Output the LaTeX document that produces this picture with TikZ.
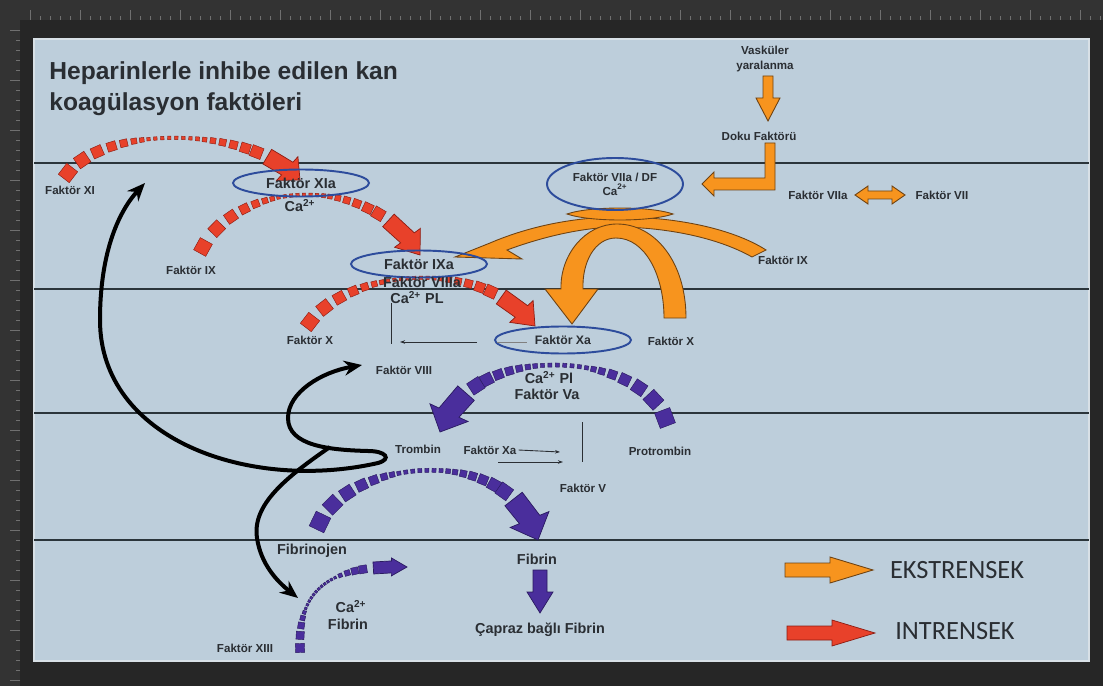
\documentclass[tikz,border=0pt]{standalone}
\usepackage{fontspec}
\setmainfont{Liberation Sans}
\newfontfamily\legendfont{Carlito}
\usetikzlibrary{shapes.geometric,calc,arrows.meta}

\definecolor{bgdark}{HTML}{262626}
\definecolor{rulerc}{HTML}{333333}
\definecolor{tickc}{HTML}{707070}
\definecolor{panelc}{HTML}{BDCEDB}
\definecolor{edgec}{HTML}{D8E0E6}
\definecolor{sepc}{HTML}{2B353B}
\definecolor{txtc}{HTML}{2A2E33}
\definecolor{redc}{HTML}{E8412A}
\definecolor{redd}{HTML}{8C1C12}
\definecolor{orc}{HTML}{F7941E}
\definecolor{ord}{HTML}{6E4212}
\definecolor{purc}{HTML}{4A2E9C}
\definecolor{purd}{HTML}{2A1A60}
\definecolor{ringc}{HTML}{2D4C9C}

% block sizes along the dashed reaction arcs (curve parameter / size in px)
\newcommand{\bigpat}{0/12,0.1/11,0.18/9.5,0.245/8,0.295/6.5,0.335/5,0.365/4,0.39/3,0.415/3,0.44/3,0.465/3,0.49/3,0.515/3,0.54/3,0.565/3.5,0.59/4,0.62/5,0.655/6,0.695/7,0.74/8.5,0.785/10}
\newcommand{\smallpat}{0/9,0.07/8,0.13/6.5,0.18/5,0.22/3.5,0.25/2.5,0.28/2.5,0.31/2.5,0.34/2.5,0.37/2.5,0.40/2.5,0.43/2.5,0.46/2.5,0.49/2.5,0.52/2.5,0.55/2.5,0.58/2.5,0.62/4,0.67/5.5,0.72/7,0.77/8}

% dashed arc with a block arrow head
% #1 fill style, #2 start, #3 #4 controls, #5 tip, #6 pattern, #7 shaft half width, #8 head half width, #9 block scale
\newcommand{\chain}[9]{%
  \foreach \t/\s in #6 {
    \path (#2) .. controls (#3) and (#4) .. (#5) node[blk,#1,pos=\t,minimum size=\s*#9*0.02cm] {};
  }
  \path (#2) .. controls (#3) and (#4) .. (#5)
    coordinate[pos=0.83] (h0) coordinate[pos=0.925] (h1) coordinate[pos=1] (h2);
  \filldraw[#1] ($(h0)!#7!90:(h1)$) -- ($(h1)!#7!90:(h2)$) -- ($(h1)!#8!90:(h2)$) -- (h2)
    -- ($(h1)!#8!-90:(h2)$) -- ($(h1)!#7!-90:(h2)$) -- ($(h0)!#7!-90:(h1)$) -- cycle;
}

\tikzset{bktip/.tip={Stealth[length=0.36cm,width=0.3cm]}}

\begin{document}
\begin{tikzpicture}[x=0.02cm,y=-0.02cm,
  lbl/.style={font=\bfseries\fontsize{6.6}{8}\selectfont,text=txtc,inner sep=1pt},
  mlbl/.style={font=\bfseries\fontsize{8.2}{9.5}\selectfont,text=txtc,inner sep=1pt},
  ttl/.style={font=\bfseries\fontsize{14}{17}\selectfont,text=txtc,inner sep=0pt},
  leg/.style={font=\legendfont\fontsize{15}{18}\selectfont,text=txtc,inner sep=0pt},
  ring/.style={ellipse,draw=ringc,line width=1.1pt,minimum width=2.72cm,minimum height=0.54cm,inner sep=0pt},
  blk/.style={rectangle,inner sep=0pt,sloped,line width=0.25pt},
  rfill/.style={fill=redc,draw=redd},
  pfill/.style={fill=purc,draw=purd},
  ofill/.style={fill=orc,draw=ord,line width=0.5pt},
  sep/.style={draw=sepc,line width=1.1pt},
  bk/.style={line width=0.08cm,black},
  thinline/.style={line width=0.5pt,txtc},
  thinarr/.style={line width=0.5pt,txtc,-{Stealth[length=0.1cm,width=0.07cm]}}]
  \useasboundingbox (0,0) rectangle (1103,686);

  % frame, rulers and panel
  \fill[bgdark] (0,0) rectangle (1103,686);
  \fill[rulerc] (0,0) rectangle (1103,20);
  \fill[rulerc] (0,0) rectangle (20,686);
  \foreach \x in {30,40,...,1100} \draw[tickc,line width=0.3pt] (\x,20) -- (\x,16);
  \foreach \x in {30,80,...,1100} \draw[tickc,line width=0.3pt] (\x,20) -- (\x,10);
  \foreach \y in {30,40,...,680} \draw[tickc,line width=0.3pt] (20,\y) -- (16,\y);
  \foreach \y in {30,80,...,680} \draw[tickc,line width=0.3pt] (20,\y) -- (10,\y);
  \fill[panelc] (33,38) rectangle (1090,662);
  \draw[edgec,line width=1pt] (34,39) rectangle (1089,661);
  \foreach \y in {163,289,413,540} \draw[sep] (34,\y) -- (1089,\y);

  % title
  \node[ttl,anchor=base west] (title1) at (49,80) {Heparinlerle inhibe edilen kan};
  \node[ttl,anchor=base west] (title2) at (49,111) {koagülasyon faktöleri};

  % intrinsic cascade (red)
  \coordinate (xiS) at (68,173);   \coordinate (xiT) at (300,180);
  \coordinate (ixS) at (203,247);  \coordinate (ixT) at (420,255);
  \coordinate (xS) at (310,322);   \coordinate (xT) at (535,326);
  \chain{rfill}{xiS}{105,125}{250,125}{xiT}{\bigpat}{0.17cm}{0.32cm}{1.15}
  \chain{rfill}{ixS}{240,180}{370,172}{ixT}{\bigpat}{0.17cm}{0.32cm}{1.15}
  \chain{rfill}{xS}{350,270}{480,255}{xT}{\bigpat}{0.17cm}{0.32cm}{1.15}

  % common pathway (purple)
  \coordinate (prS) at (665,418);  \coordinate (prT) at (440,432);
  \coordinate (fgS) at (320,522);  \coordinate (fgT) at (538,540);
  \coordinate (xiiiS) at (300,648); \coordinate (xiiiT) at (407,567);
  \chain{pfill}{prS}{640,352}{470,338}{prT}{\bigpat}{0.22cm}{0.42cm}{1.35}
  \chain{pfill}{fgS}{350,460}{510,440}{fgT}{\bigpat}{0.22cm}{0.42cm}{1.35}
  \chain{pfill}{xiiiS}{298,585}{335,565}{xiiiT}{\smallpat}{0.12cm}{0.18cm}{1}
  \filldraw[pfill] (533,570) -- (547,570) -- (547,592) -- (553,592) -- (540,613)
    -- (527,592) -- (533,592) -- cycle;

  % extrinsic pathway (orange)
  \filldraw[ofill] (763,76) -- (773,76) -- (773,98) -- (780,98) -- (768,121)
    -- (756,98) -- (763,98) -- cycle;
  \filldraw[ofill] (765,143) -- (775,143) -- (775,190) -- (714,190) -- (714,196)
    -- (702,184) -- (714,172) -- (714,178) -- (765,178) -- cycle;
  \filldraw[ofill] (855,195) -- (868,186) -- (868,191) -- (892,191) -- (892,186)
    -- (905,195) -- (892,204) -- (892,199) -- (868,199) -- (868,204) -- cycle;
  \filldraw[ofill] (766,250) .. controls (735,230) and (680,217) .. (620,217)
    .. controls (570,217) and (525,228) .. (490,243) -- (455,257) -- (522,259) -- (507,250)
    .. controls (545,236) and (585,227) .. (620,227)
    .. controls (675,228) and (722,240) .. (752,257) -- cycle;
  \filldraw[ofill] (664,318) .. controls (664,275) and (645,238) .. (616,238)
    .. controls (595,238) and (582,262) .. (583,289) -- (598,289) -- (572,324)
    -- (545,289) -- (561,289) .. controls (560,255) and (585,224) .. (617,224)
    .. controls (655,224) and (686,262) .. (686,318) -- cycle;
  \filldraw[ofill] (567,214) .. controls (590,206) and (650,206) .. (673,214)
    .. controls (650,222) and (590,222) .. (567,214) -- cycle;

  % thrombin feedback (black)
  \coordinate (bkA) at (145,183);
  \coordinate (bkB) at (362,365);
  \coordinate (bkS) at (330,447);
  \coordinate (bkC) at (298,598);
  \draw[bk,bktip-bktip] (bkA) .. controls (120,210) and (100,250) .. (100,320)
    .. controls (100,440) and (250,492) .. (378,463)
    .. controls (392,459) and (386,451) .. (368,451)
    .. controls (330,450) and (288,446) .. (288,418)
    .. controls (288,392) and (322,372) .. (bkB);
  \draw[bk,-bktip] (bkS) .. controls (285,478) and (252,505) .. (257,538)
    .. controls (261,565) and (278,582) .. (bkC);

  % labels
  \node[lbl] (fxi) at (70,190) {Faktör XI};
  \node[mlbl,ring] (fxia) at (301,183) {Faktör XIa};
  \node[mlbl] (ca1) at (300,206) {Ca\textsuperscript{2+}};
  \node[lbl] (fix) at (191,270) {Faktör IX};
  \node[mlbl,ring] (fixa) at (419,264) {Faktör IXa};
  \node[mlbl] (fviiia) at (422,282) {Faktör VIIIa};
  \node[mlbl] (capl) at (417,298) {Ca\textsuperscript{2+} PL};
  \node[lbl] (fxl) at (310,340) {Faktör X};
  \node[lbl] (fviii) at (404,370) {Faktör VIII};
  \node[lbl,ring,font=\bfseries\fontsize{7}{8}\selectfont] (fxa) at (563,340) {Faktör Xa};
  \node[lbl] (fxr) at (671,341) {Faktör X};
  \node[mlbl] (capi) at (549,378) {Ca\textsuperscript{2+} Pl};
  \node[mlbl] (fva) at (547,394) {Faktör Va};
  \node[lbl] (tromb) at (418,449) {Trombin};
  \node[lbl] (fxa2) at (490,450) {Faktör Xa};
  \node[lbl] (protr) at (660,451) {Protrombin};
  \node[lbl] (fv) at (583,488) {Faktör V};
  \node[mlbl] (fibj) at (312,551) {Fibrinojen};
  \node[mlbl] (fib) at (537,559) {Fibrin};
  \node[mlbl] (capraz) at (540,630) {Çapraz bağlı Fibrin};
  \node[mlbl] (ca3) at (351,607) {Ca\textsuperscript{2+}};
  \node[mlbl] (fib2) at (348,624) {Fibrin};
  \node[lbl] (fxiii) at (245,648) {Faktör XIII};
  \node[lbl,align=center] (vask) at (765,59) {Vasküler\\yaralanma};
  \node[lbl] (doku) at (759,136) {Doku Faktörü};
  \node[lbl,ring,minimum height=1.04cm,align=center] (fviiadf) at (615,184) {Faktör VIIa / DF\\Ca\textsuperscript{2+}};
  \node[lbl] (fviia) at (818,195) {Faktör VIIa};
  \node[lbl] (fvii) at (942,195) {Faktör VII};
  \node[lbl] (fixr) at (783,260) {Faktör IX};

  % thin reaction arrows
  \coordinate (v1a) at (391,303); \coordinate (v1b) at (391,344);
  \coordinate (h1a) at (477,342); \coordinate (h1b) at (400,342);
  \coordinate (h2a) at (497,342); \coordinate (h2b) at (527,342);
  \coordinate (h3b) at (560,452);
  \coordinate (h4a) at (498,462); \coordinate (h4b) at (563,462);
  \coordinate (v2a) at (582,422); \coordinate (v2b) at (582,462);
  \draw[thinline] (v1a) -- (v1b);
  \draw[thinarr] (h1a) -- (h1b);
  \draw[thinline,gray] (h2a) -- (h2b);
  \draw[thinarr] (fxa2.east) -- (h3b);
  \draw[thinarr] (h4a) -- (h4b);
  \draw[thinline] (v2a) -- (v2b);

  % legend
  \filldraw[ofill] (785,563) -- (830,563) -- (830,557) -- (873,570) -- (830,583)
    -- (830,577) -- (785,577) -- cycle;
  \filldraw[rfill] (787,626) -- (832,626) -- (832,620) -- (875,633) -- (832,646)
    -- (832,640) -- (787,640) -- cycle;
  \node[leg] (ekstr) at (957,570) {EKSTRENSEK};
  \node[leg] (intr) at (955,631) {INTRENSEK};
\end{tikzpicture}
\end{document}
